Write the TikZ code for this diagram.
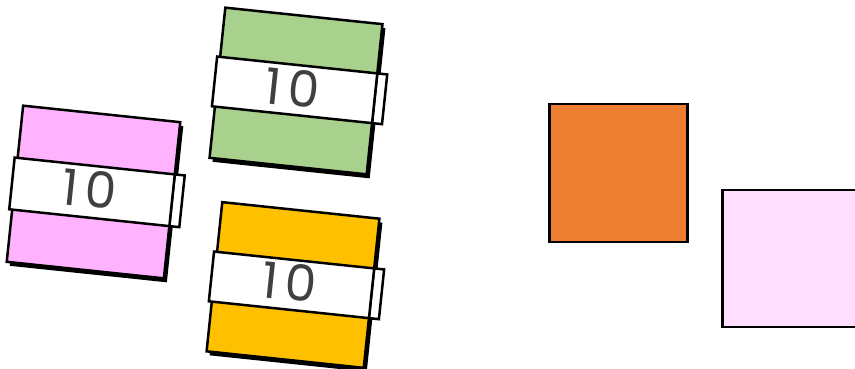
\documentclass[tikz,border=0pt]{standalone}
\usepackage{fontspec}
\newfontfamily\digitfont{Poppins}
\usetikzlibrary{shadows}
\definecolor{padpink}{HTML}{FFB3FF}
\definecolor{padgreen}{HTML}{A9D18E}
\definecolor{padgold}{HTML}{FFC000}
\definecolor{tileorange}{HTML}{ED7D31}
\definecolor{tilepink}{HTML}{FFDEFF}
\definecolor{numgray}{HTML}{404040}
\tikzset{pad/.style={draw,line width=2.5pt,rectangle,minimum width=158pt,inner sep=0pt,
    drop shadow={shadow xshift=3pt,shadow yshift=-4pt,fill=black,opacity=1}},
  band/.style={draw,line width=2.5pt,fill=white,rectangle,minimum width=161pt,inner sep=0pt},
  tab/.style={band,minimum width=10pt},
  num/.style={font=\digitfont\fontsize{50}{50}\selectfont,text=numgray,inner sep=0pt},
  tile/.style={draw,line width=2.5pt,rectangle,minimum size=138pt,inner sep=0pt}}

\begin{document}
\begin{tikzpicture}[x=1pt,y=-1pt]
\useasboundingbox (0,0) rectangle (855,369);
% pink pad
\begin{scope}[shift={(93.5,192)},rotate=-6,transform shape]
\node[pad,fill=padpink,minimum height=157pt] (pinkpad) at (0,0) {};
\node[tab,minimum height=52pt] (pinktab) at (84,0) {};
\node[band,minimum height=52pt] (pinkband) at (-1.5,0) {};
\node[num] (pinknum) at (-4,-3) {1\hspace{7pt}0};
\end{scope}
% green pad
\begin{scope}[shift={(296,91)},rotate=-6,transform shape]
\node[pad,fill=padgreen,minimum height=151pt] (greenpad) at (0,0) {};
\node[tab,minimum height=50pt] (greentab) at (84,-1) {};
\node[band,minimum height=50pt] (greenband) at (-1.5,-1) {};
\node[num] (greennum) at (-4,-3) {1\hspace{7pt}0};
\end{scope}
% gold pad
\begin{scope}[shift={(293,285)},rotate=-6,transform shape]
\node[pad,fill=padgold,minimum height=150pt] (goldpad) at (0,0) {};
\node[tab,minimum height=50pt] (goldtab) at (84,0) {};
\node[band,minimum height=50pt] (goldband) at (-1.5,0) {};
\node[num] (goldnum) at (-4,-3) {1\hspace{7pt}0};
\end{scope}
% tiles
\node[tile,fill=tileorange] (orangetile) at (618.5,173) {};
\node[tile,fill=tilepink,minimum size=137pt] (pinktile) at (791,258.5) {};
\end{tikzpicture}
\end{document}
